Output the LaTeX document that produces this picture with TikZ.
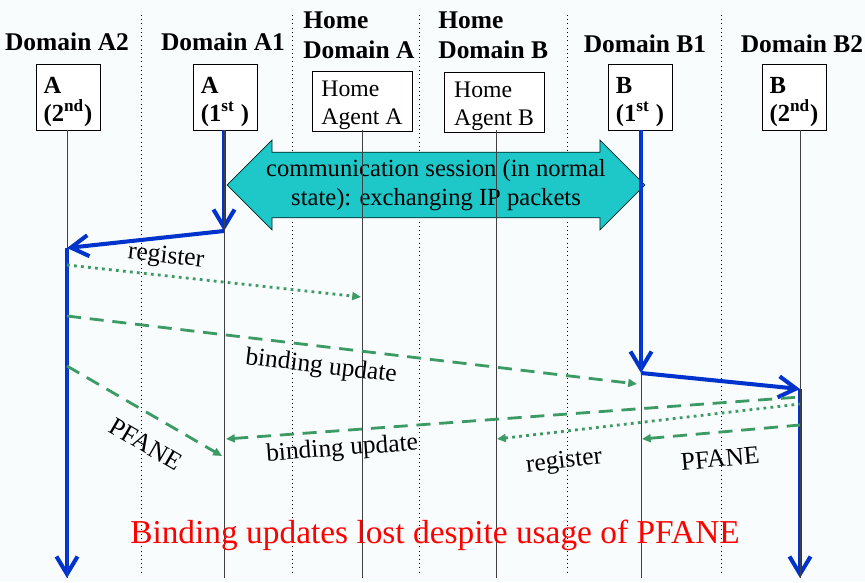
\documentclass[tikz,border=0pt]{standalone}
\usepackage{fontspec}
\setmainfont{Liberation Serif}
\usetikzlibrary{arrows.meta,shapes.arrows}
\definecolor{flowblue}{RGB}{0,51,204}
\definecolor{msggreen}{RGB}{60,155,100}
\definecolor{sessioncyan}{RGB}{30,200,200}
\definecolor{paper}{RGB}{248,252,252}
\newcommand{\boxpad}[1]{\rule{0pt}{#1}}
\tikzstyle{domainhead}=[font=\fontsize{14.5}{17}\selectfont\bfseries, align=left, inner sep=0pt]
\tikzstyle{hostbox}=[draw, thin, fill=white, align=left, inner sep=0pt, minimum width=1.28cm, minimum height=1.32cm, font=\fontsize{14}{15.5}\selectfont\bfseries]
\tikzstyle{agentbox}=[draw, thin, fill=white, align=left, inner sep=0pt, minimum width=2cm, minimum height=1.2cm, font=\fontsize{13.5}{16}\selectfont]
\tikzstyle{lifeline}=[draw=black!75, thin]
\tikzstyle{domainborder}=[dotted, thin]
\tikzstyle{sessionarrow}=[shape=double arrow, draw=black!70!teal, fill=sessioncyan, double arrow head extend=0.22cm, double arrow tip angle=90, minimum height=8.36cm, minimum width=1.8cm, inner sep=2pt, align=center, font=\fontsize{14}{16.5}\selectfont]
\tikzstyle{hostmove}=[flowblue, line width=2.3pt, -{Straight Barb[length=10pt,width=12pt]}]
\tikzstyle{dashmsg}=[msggreen, line width=1.6pt, dash pattern=on 8pt off 5pt]
\tikzstyle{dotmsg}=[msggreen, line width=1.6pt, dash pattern=on 1.6pt off 2.4pt]
\tikzstyle{gtip}=[-{Triangle[length=5pt,width=4.5pt]}]
\tikzstyle{msglabel}=[font=\fontsize{14.5}{17}\selectfont, sloped, text=black]

\begin{document}
\begin{tikzpicture}[x=0.02cm, y=-0.02cm]
    \fill[paper] (0,0) rectangle (865,582);
    \useasboundingbox (0,0) rectangle (865,582);

    % domain borders
    \foreach \x in {141,292,419,567,721}
        \draw[domainborder] (\x,15) -- (\x,574);

    % life line ends
    \foreach \x/\name in {67/A2, 224/A1, 362/HA, 496/HB, 641/B1, 800/B2} {
        \coordinate (top\name) at (\x,130);
        \coordinate (bot\name) at (\x,578);
    }

    % headers
    \node[domainhead] (hdA2) at (67,42) {Domain A2};
    \node[domainhead] (hdA1) at (223,42) {Domain A1};
    \node[domainhead, anchor=west] (hdHA) at (303,35) {Home\\Domain A};
    \node[domainhead, anchor=west] (hdHB) at (438,35) {Home\\Domain B};
    \node[domainhead] (hdB1) at (645,44) {Domain B1};
    \node[domainhead] (hdB2) at (802,44) {Domain B2};

    % hosts and agents
    \node[hostbox] (A2) at (68,97) {\boxpad{15pt}A\\(2\textsuperscript{nd})};
    \node[hostbox] (A1) at (225,97) {\boxpad{15pt}A\\(1\textsuperscript{st} )};
    \node[agentbox] (HA) at (362,101) {\boxpad{13.5pt}Home\\Agent A};
    \node[agentbox] (HB) at (494,102) {\boxpad{13.5pt}Home\\Agent B};
    \node[hostbox] (B1) at (640,97) {\boxpad{15pt}B\\(1\textsuperscript{st} )};
    \node[hostbox] (B2) at (794,97) {\boxpad{15pt}B\\(2\textsuperscript{nd})};

    \node[sessionarrow] (sess) at (436,185) {communication session (in normal\\state): exchanging IP packets};

    % movements
    \coordinate (turnA1) at (224,231);
    \coordinate (landA2) at (67,248);
    \coordinate (turnB1) at (641,373);
    \coordinate (landB2) at (800,389);
    \draw[hostmove] (topA1) -- (turnA1);
    \draw[hostmove] (turnA1) -- (landA2);
    \draw[hostmove] (landA2) -- (botA2);
    \draw[hostmove] (topB1) -- (turnB1);
    \draw[hostmove] (turnB1) -- (landB2);
    \draw[hostmove] (landB2) -- (botB2);

    \foreach \name in {A2, A1, HA, HB, B1, B2}
        \draw[lifeline] (top\name) -- (bot\name);

    % messages from A
    \coordinate (regA) at (67,265);
    \coordinate (regHA) at (361,297);
    \coordinate (buA) at (67,316);
    \coordinate (buB1) at (637,384);
    \coordinate (pfA) at (67,366);
    \coordinate (pfA1) at (222,456);
    \draw[dotmsg, gtip] (regA) -- node[msglabel, above, pos=0.33] {register} (regHA);
    \draw[dashmsg, gtip] (buA) -- node[msglabel, below=1pt, pos=0.45] {binding update} (buB1);
    \draw[dashmsg, gtip] (pfA) -- node[msglabel, below=7pt, pos=0.6] {PFANE} (pfA1);

    % messages from B
    \coordinate (buB) at (800,397);
    \coordinate (buA1) at (226,439);
    \coordinate (regB) at (800,404);
    \coordinate (regHB) at (497,439);
    \coordinate (pfB) at (800,425);
    \coordinate (pfB1) at (642,439);
    \draw[dashmsg, {Triangle[length=5pt,width=4.5pt]}-] (buA1) -- node[msglabel, below, pos=0.2] {binding update} (buB);
    \draw[dotmsg, {Triangle[length=5pt,width=4.5pt]}-] (regHB) -- node[msglabel, below=7pt, pos=0.21] {register} (regB);
    \draw[dashmsg, {Triangle[length=5pt,width=4.5pt]}-] (pfB1) -- node[msglabel, below=6pt, pos=0.48] {PFANE} (pfB);

    \node[font=\fontsize{19}{22}\selectfont, text=red] (lost) at (435,535) {Binding updates lost despite usage of PFANE};
\end{tikzpicture}
\end{document}
